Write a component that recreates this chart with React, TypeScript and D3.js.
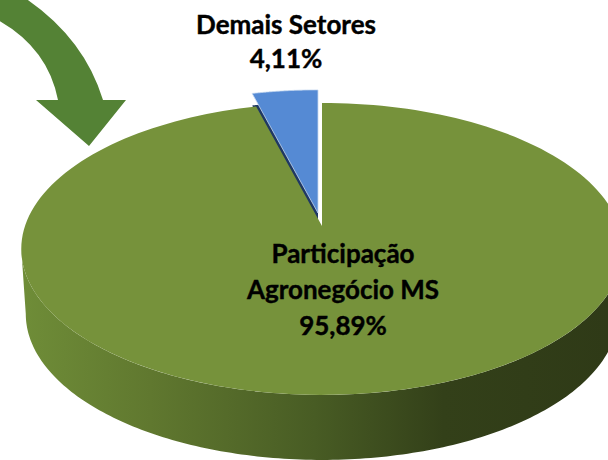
import React from 'react';
import * as d3 from 'd3';

const width = 608;
const height = 460;

// slices, clockwise from 12 o'clock
const categories = ['Demais Setores', 'Participação Agronegócio MS'];
const shares = [4.11, 95.89];
const labelLines = [['Demais Setores', '4,11%'], ['Participação', 'Agronegócio MS', '95,89%']];
const labelCenters = [286, 343];
const labelBaselines = [[34, 68], [263, 299, 335]];

const colors = { blue: '#558ad4', blueSide: '#1f3864', green: '#76923b', arrow: '#548235' };
const wallStops = [
  { at: 0, color: '#6f8d38' },
  { at: 0.22, color: '#60782f' },
  { at: 0.5, color: '#485c24' },
  { at: 0.72, color: '#334019' },
  { at: 1, color: '#2f3a17' },
];

// tilted disc, foreshortened towards the back
const cx = 322;
const cy = 226;
const rx = 297;
const ry = 142.4;
const tilt = 0.157;
const wallDepth = 65;

const project = (angle: number, r = 1, scale = 1): [number, number] => {
  const u = r * Math.sin(angle);
  const v = r * Math.cos(angle);
  const w = 1 + tilt * v;
  return [cx + (rx * scale * u) / w, cy - (ry * v) / w];
};

const pie = d3.pie<number>().sort(null);
const arcs = pie(shares);
const line = d3.line();

const rimPoints = (start: number, end: number, scale = 1) =>
  d3.range(0, 181).map(i => project(start + ((end - start) * i) / 180, 1, scale));

const slicePath = (start: number, end: number) =>
  line([[cx, cy], ...rimPoints(start, end)]) + 'Z';

const arrowPath = () => {
  const p = d3.path();
  p.moveTo(25, -2);
  p.quadraticCurveTo(84, 38, 103, 100);
  p.lineTo(126, 100);
  p.lineTo(89, 146);
  p.lineTo(36, 100);
  p.lineTo(58, 100);
  p.quadraticCurveTo(48, 48, -2, 20);
  p.lineTo(-2, -2);
  p.closePath();
  return p.toString();
};

const App = () => {
  // the small slice is drawn from the end of the turn so it sits left of 12 o'clock
  const small = arcs[0];
  const smallStart = -(small.endAngle - small.startAngle);
  const smallEnd = 0;
  const bigStart = 0;
  const bigEnd = arcs[1].endAngle - arcs[1].startAngle;

  // wall runs between the two widest points of the rim
  const side = Math.acos(-tilt);
  const wallTop = rimPoints(side, Math.PI * 2 - side);
  const wallBottom = rimPoints(side, Math.PI * 2 - side, 0.985)
    .map(([x, y]): [number, number] => [x, y + wallDepth]);
  const wall = line([...wallTop, ...wallBottom.reverse()]) + 'Z';

  return (
    <svg width={width} height={height} style={{ position: 'absolute', left: 0, top: 0, background: '#fff' }}>
      <defs>
        <linearGradient id="wall" gradientUnits="userSpaceOnUse" x1={21} x2={608} y1={0} y2={0}>
          {wallStops.map(s => <stop key={s.at} offset={s.at} stopColor={s.color} />)}
        </linearGradient>
      </defs>
      <path d={arrowPath()} fill={colors.arrow} />
      <path d={wall} fill="url(#wall)" />
      <path d={slicePath(smallStart, smallEnd)} fill={colors.blueSide} transform="translate(-4,-1)" />
      <path d={slicePath(bigStart, bigEnd)} fill={colors.green} />
      <path
        d={slicePath(smallStart, smallEnd)}
        fill={colors.blue}
        stroke="#c5d8f0"
        strokeWidth={0.8}
        transform="translate(-4,-13)"
      />
      {categories.map((c, i) => (
        <text
          key={c}
          textAnchor="middle"
          fontFamily="Lato, sans-serif"
          fontWeight={700}
          fontSize={26}
          fill="#000"
          stroke="#000"
          strokeWidth={0.4}
        >
          {labelLines[i].map((t, j) => (
            <tspan key={t} x={labelCenters[i]} y={labelBaselines[i][j]}>{t}</tspan>
          ))}
        </text>
      ))}
    </svg>
  );
};

export default App;
